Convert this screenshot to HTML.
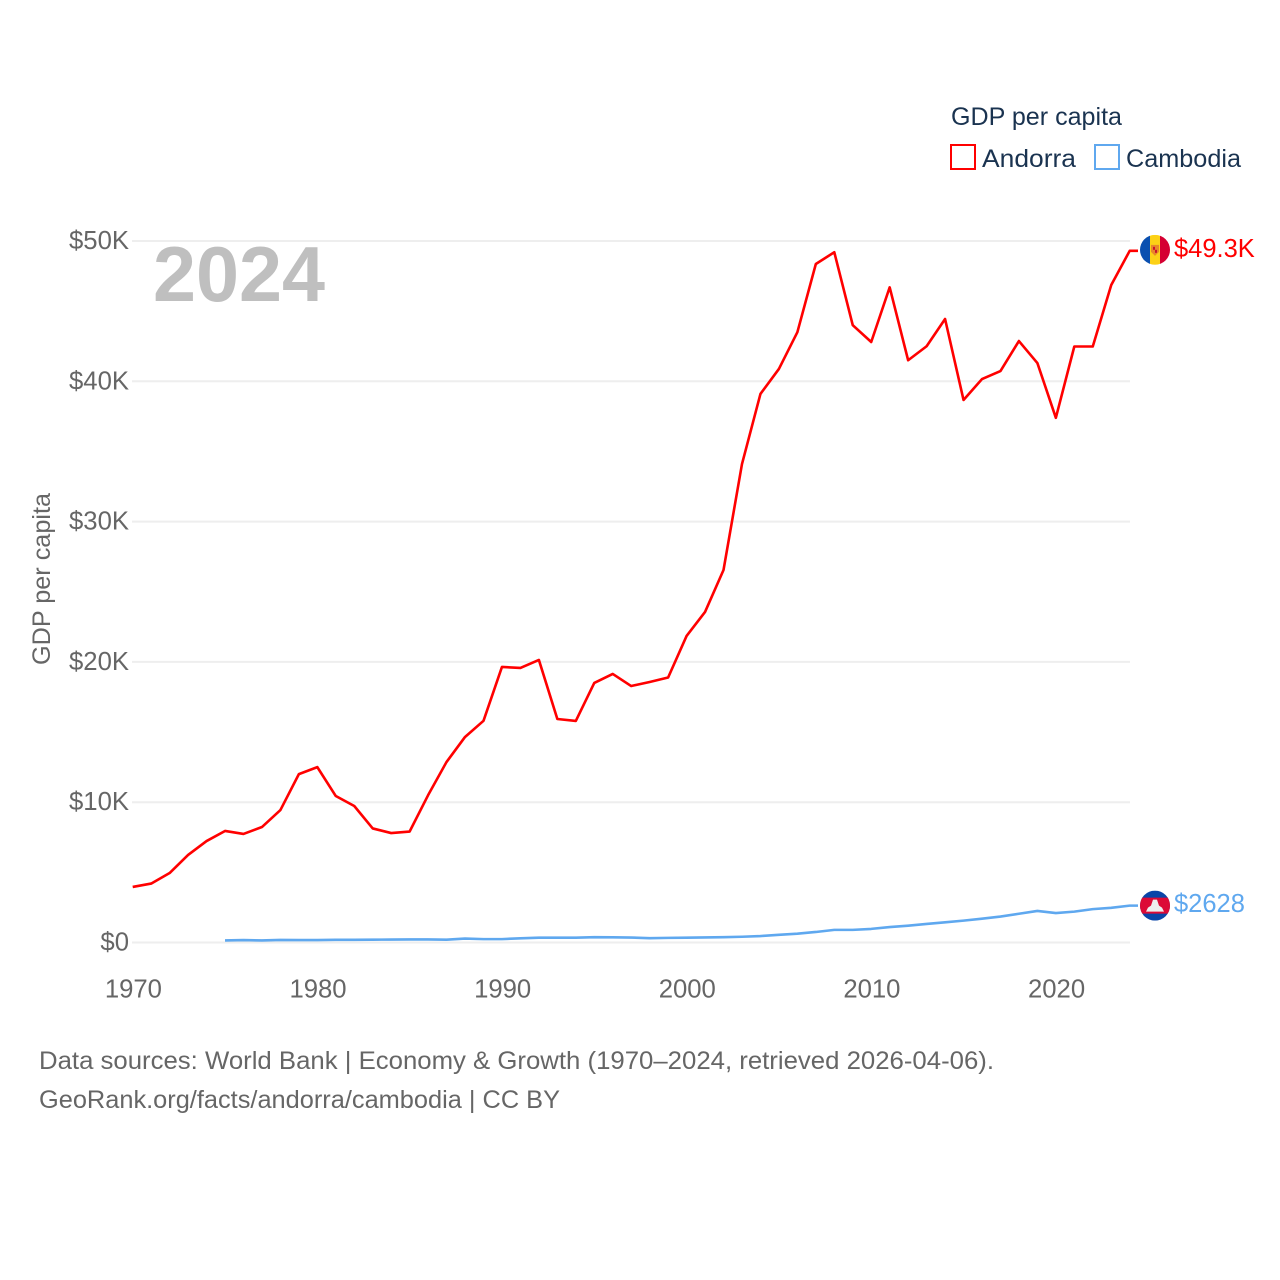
<!DOCTYPE html>
<html lang="en">
<head>
<meta charset="utf-8">
<title>GDP per capita: Andorra and Cambodia</title>
<style>
  html, body { margin: 0; padding: 0; background: #fff; }
  body { width: 1280px; height: 1280px; overflow: hidden; }
  svg { display: block; font-family: "Liberation Sans", sans-serif; }
</style>
</head>
<body>
<svg id="chart" width="1280" height="1280" viewBox="0 0 1280 1280" xmlns="http://www.w3.org/2000/svg">
  <rect width="1280" height="1280" fill="#fff"/>
  <defs>
    <clipPath id="flag-clip-a"><circle cx="0" cy="0" r="15"/></clipPath>
    <clipPath id="flag-clip-c"><circle cx="0" cy="0" r="15"/></clipPath>
  </defs>
  <g id="grid"></g>
  <g id="yticks"></g>
  <g id="xticks"></g>
  <text x="153" y="301" font-size="78" font-weight="700" fill="#bfbfbf" textLength="172" lengthAdjust="spacingAndGlyphs">2024</text>
  <text transform="translate(50,579) rotate(-90)" text-anchor="middle" font-size="25" fill="#666" textLength="172" lengthAdjust="spacingAndGlyphs">GDP per capita</text>

  <g id="series"></g>

  <g id="flag-andorra">
    <g clip-path="url(#flag-clip-a)">
      <rect x="-15" y="-15" width="10" height="30" fill="#0a50b0"/>
      <rect x="-5" y="-15" width="10" height="30" fill="#fcd116"/>
      <rect x="5" y="-15" width="10" height="30" fill="#d50032"/>
      <path d="M-4,-5 H4 V2 L0,6 L-4,2 Z" fill="#e8862a"/>
      <rect x="-2" y="-3" width="2" height="3" fill="#c8102e"/>
      <rect x="0" y="0" width="2" height="3" fill="#c8102e"/>
    </g>
  </g>
  <g id="flag-cambodia">
    <g clip-path="url(#flag-clip-c)">
      <rect x="-15" y="-15" width="30" height="30" fill="#0a45a8"/>
      <rect x="-15" y="-8" width="30" height="16" fill="#dc0a36"/>
      <path d="M-9,6 L-7,2 L-4,0 L-2,-6 L2,-6 L4,0 L7,2 L9,6 Z" fill="#eeeeee"/>
    </g>
  </g>
  <text id="label-andorra" x="1174" font-size="25.5" fill="#ff0000"></text>
  <text id="label-cambodia" x="1174" font-size="25.5" fill="#5fa8ef"></text>

  <g>
    <text x="951" y="125" font-size="25" fill="#1a3350" textLength="171" lengthAdjust="spacingAndGlyphs">GDP per capita</text>
    <g>
      <rect x="951" y="145" width="24" height="24" fill="none" stroke="#ff0000" stroke-width="2"/>
      <text x="982" y="167" font-size="25" fill="#1a3350" textLength="94" lengthAdjust="spacingAndGlyphs">Andorra</text>
    </g>
    <g>
      <rect x="1095" y="145" width="24" height="24" fill="none" stroke="#5fa8ef" stroke-width="2"/>
      <text x="1126" y="167" font-size="25" fill="#1a3350" textLength="115" lengthAdjust="spacingAndGlyphs">Cambodia</text>
    </g>
  </g>

  <text x="39" y="1069" font-size="25" fill="#666" textLength="955" lengthAdjust="spacingAndGlyphs">Data sources: World Bank | Economy &amp; Growth (1970–2024, retrieved 2026-04-06).</text>
  <text x="39" y="1108" font-size="25" fill="#666" textLength="521" lengthAdjust="spacingAndGlyphs">GeoRank.org/facts/andorra/cambodia | CC BY</text>
</svg>
<script>
const yTickValues = [0, 10, 20, 30, 40, 50];
const xTickValues = [1970, 1980, 1990, 2000, 2010, 2020];
const andorraYears = [1970,1971,1972,1973,1974,1975,1976,1977,1978,1979,1980,1981,1982,1983,1984,1985,1986,1987,1988,1989,1990,1991,1992,1993,1994,1995,1996,1997,1998,1999,2000,2001,2002,2003,2004,2005,2006,2007,2008,2009,2010,2011,2012,2013,2014,2015,2016,2017,2018,2019,2020,2021,2022,2023,2024];
const andorraValues = [3.96,4.2,4.95,6.24,7.23,7.95,7.74,8.23,9.44,12.0,12.5,10.44,9.73,8.13,7.8,7.91,10.5,12.87,14.65,15.8,19.64,19.57,20.14,15.93,15.79,18.5,19.14,18.28,18.57,18.89,21.85,23.56,26.55,34.1,39.1,40.88,43.5,48.36,49.2,44.0,42.8,46.7,41.5,42.5,44.44,38.67,40.16,40.73,42.87,41.3,37.4,42.48,42.48,46.86,49.3];
const cambodiaYears = [1975,1976,1977,1978,1979,1980,1981,1982,1983,1984,1985,1986,1987,1988,1989,1990,1991,1992,1993,1994,1995,1996,1997,1998,1999,2000,2001,2002,2003,2004,2005,2006,2007,2008,2009,2010,2011,2012,2013,2014,2015,2016,2017,2018,2019,2020,2021,2022,2023,2024];
const cambodiaValues = [0.15,0.17,0.15,0.18,0.17,0.17,0.19,0.19,0.2,0.21,0.22,0.22,0.2,0.28,0.24,0.24,0.3,0.34,0.34,0.34,0.38,0.37,0.35,0.31,0.33,0.34,0.36,0.38,0.41,0.46,0.55,0.63,0.75,0.9,0.9,0.97,1.1,1.2,1.32,1.44,1.56,1.7,1.85,2.05,2.25,2.1,2.2,2.38,2.47,2.628];

const NS = 'http://www.w3.org/2000/svg';
function xScale(year) { return 132.7 + (year - 1970) * (1129.7 - 132.7) / 54; }
function yScale(v) { return 942.5 - v * (942.5 - 241) / 50; }
function make(tag, attrs, parent) {
  const el = document.createElementNS(NS, tag);
  for (const k in attrs) el.setAttribute(k, attrs[k]);
  parent.appendChild(el);
  return el;
}

const grid = document.getElementById('grid');
const yticks = document.getElementById('yticks');
yTickValues.forEach(function (v) {
  const line = make('line', { x1: 132, x2: 1130, y1: yScale(v), y2: yScale(v), stroke: '#eeeeee', 'stroke-width': 2 }, grid);
  
  
  const t = make('text', { x: 129, y: yScale(v) + 8, 'text-anchor': 'end', 'font-size': 25.7, fill: '#666' }, yticks);
  t.textContent = v === 0 ? '$0' : '$' + v + 'K';
  
  
});

const xticks = document.getElementById('xticks');
xTickValues.forEach(function (yr) {
  const t = make('text', { x: xScale(yr) + 0.7, y: 997.5, 'text-anchor': 'middle', 'font-size': 25.7, fill: '#666' }, xticks);
  t.textContent = String(yr);
  
  
});

function linePath(years, values) {
  const pts = years.map(function (yr, i) { return xScale(yr).toFixed(2) + ',' + yScale(values[i]).toFixed(2); });
  const lastY = yScale(values[values.length - 1]).toFixed(2);
  return 'M' + pts.join(' L') + ' L1138,' + lastY;
}
const seriesGroup = document.getElementById('series');
const cambodiaLine = make('path', { d: linePath(cambodiaYears, cambodiaValues), fill: 'none', stroke: '#5fa8ef', 'stroke-width': 2.6, 'stroke-linejoin': 'round' }, seriesGroup);


const andorraLine = make('path', { d: linePath(andorraYears, andorraValues), fill: 'none', stroke: '#ff0000', 'stroke-width': 2.6, 'stroke-linejoin': 'round' }, seriesGroup);



const lastA = andorraValues[andorraValues.length - 1];
const lastC = cambodiaValues[cambodiaValues.length - 1];
document.getElementById('flag-andorra').setAttribute('transform', 'translate(1155,' + (yScale(lastA) - 1) + ')');
document.getElementById('flag-cambodia').setAttribute('transform', 'translate(1155,' + yScale(lastC) + ')');
const labelA = document.getElementById('label-andorra');
labelA.setAttribute('y', yScale(lastA) + 6);
labelA.textContent = '$' + lastA.toFixed(1) + 'K';
const labelC = document.getElementById('label-cambodia');
labelC.setAttribute('y', yScale(lastC) + 6.5);
labelC.textContent = '$' + Math.round(lastC * 1000);
</script>
</body>
</html>
